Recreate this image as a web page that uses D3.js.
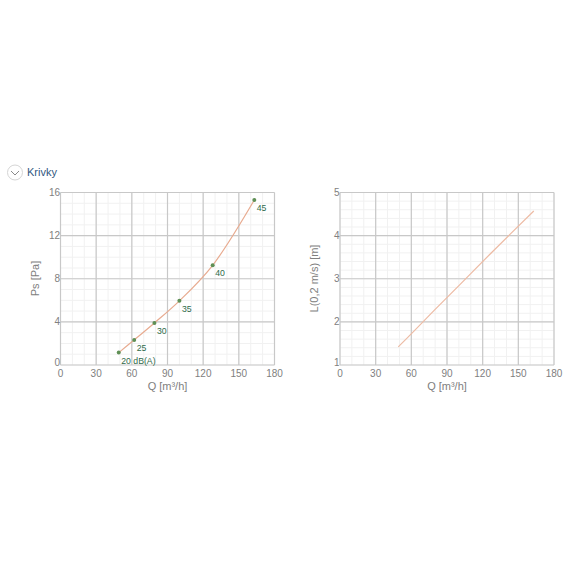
<!DOCTYPE html>
<html><head><meta charset="utf-8">
<script src="https://cdn.jsdelivr.net/npm/d3@7"></script>
<style>html,body{margin:0;padding:0;background:#fff}svg{display:block}text{font-family:"Liberation Sans",Arial,sans-serif}</style>
</head><body><svg id="c" width="576" height="576"></svg>
<script>
const sectionTitle = "Krivky";
const flow = [49, 62, 79, 100, 128, 163];
const pressure = [1.15, 2.33, 3.9, 5.95, 9.25, 15.3];
const pointLabels = ["20 dB(A)", "25", "30", "35", "40", "45"];
const lengthFlow = [49, 62, 79, 100, 128, 163];
const lengthValues = [1.42, 1.78, 2.26, 2.84, 3.62, 4.57];
const xTicks = [0, 30, 60, 90, 120, 150, 180];
const xMinor = d3.range(0, 181, 10);
const yTicksA = [0, 4, 8, 12, 16];
const yMinorA = d3.range(0, 17, 1);
const yTicksB = [1, 2, 3, 4, 5];
const yMinorB = [1, 1.2, 1.4, 1.6, 1.8, 2, 2.2, 2.4, 2.6, 2.8, 3, 3.2, 3.4, 3.6, 3.8, 4, 4.2, 4.4, 4.6, 4.8, 5];

const svg = d3.select("#c");
const dot = "#5f8f55", labelCol = "#2f6b4a", axisText = "#808080";

function panel(opt) {
  const x = d3.scaleLinear().domain([0, 180]).range([opt.left, opt.left + 214]);
  const y = d3.scaleLinear().domain(opt.yDomain).range([365, 192.5]);
  const g = svg.append("g");
  g.selectAll(".mx").data(xMinor).join("line").attr("x1", d => x(d)).attr("x2", d => x(d))
    .attr("y1", 192.5).attr("y2", 365).attr("stroke", "#f1f1f1");
  g.selectAll(".my").data(opt.yMinor).join("line").attr("y1", d => y(d)).attr("y2", d => y(d))
    .attr("x1", opt.left).attr("x2", opt.left + 214).attr("stroke", "#f1f1f1");
  g.selectAll(".Mx").data(xTicks).join("line").attr("x1", d => x(d)).attr("x2", d => x(d))
    .attr("y1", 192.5).attr("y2", 365).attr("stroke", "#c8c8c8").attr("stroke-width", 1.2);
  g.selectAll(".My").data(opt.yTicks).join("line").attr("y1", d => y(d)).attr("y2", d => y(d))
    .attr("x1", opt.left).attr("x2", opt.left + 214).attr("stroke", "#c8c8c8").attr("stroke-width", 1.2);
  g.selectAll(".xl").data(xTicks).join("text").attr("x", d => x(d)).attr("y", 377)
    .attr("text-anchor", "middle").attr("font-size", 10).attr("fill", axisText).text(d => d);
  g.selectAll(".yl").data(opt.yTicks).join("text").attr("x", opt.left - 0.5)
    .attr("y", (d, i) => y(d) + (i === 0 ? 1 : 3.5))
    .attr("text-anchor", "end").attr("font-size", 10).attr("fill", axisText).text(d => d);
  g.append("text").attr("x", opt.left + 107).attr("y", 389.5).attr("text-anchor", "middle")
    .attr("font-size", 11).attr("fill", axisText).text("Q [m³/h]");
  g.append("text").attr("transform", `translate(${opt.left - 22},278.5) rotate(-90)`)
    .attr("text-anchor", "middle").attr("font-size", 11).attr("fill", axisText).text(opt.yTitle);
  const path = d3.line().x(d => x(d[0])).y(d => y(d[1])).curve(d3.curveCatmullRom.alpha(0.5));
  g.append("path").attr("d", path(d3.zip(opt.xs, opt.ys))).attr("fill", "none")
    .attr("stroke", opt.lineColor).attr("stroke-width", 1.2);
  return { x, y, g };
}

const a = panel({ left: 60.5, yDomain: [0, 16], yTicks: yTicksA, yMinor: yMinorA, yTitle: "Ps [Pa]", xs: flow, ys: pressure, lineColor: "#e8ab90" });
panel({ left: 340, yDomain: [1, 5], yTicks: yTicksB, yMinor: yMinorB, yTitle: "L(0,2 m/s) [m]", xs: lengthFlow, ys: lengthValues, lineColor: "#edbba4" });

a.g.selectAll(".pt").data(d3.zip(flow, pressure)).join("circle")
  .attr("cx", d => a.x(d[0])).attr("cy", d => a.y(d[1])).attr("r", 2).attr("fill", dot);
a.g.selectAll(".pl").data(d3.zip(flow, pressure, pointLabels)).join("text")
  .attr("x", d => a.x(d[0]) + 2.5).attr("y", d => a.y(d[1]) + 11)
  .attr("font-size", 8.7).attr("fill", labelCol).text(d => d[2]);

svg.append("circle").attr("cx", 15).attr("cy", 172.5).attr("r", 7.5).attr("fill", "#fff").attr("stroke", "#d5d5d5");
svg.append("path").attr("d", d3.line()([[11, 171], [15, 175], [19, 171]])).attr("fill", "none").attr("stroke", "#8a8a8a").attr("stroke-width", 1);
svg.append("text").attr("x", 27).attr("y", 176).attr("font-size", 11).attr("fill", "#33587f").text(sectionTitle);
</script></body></html>
